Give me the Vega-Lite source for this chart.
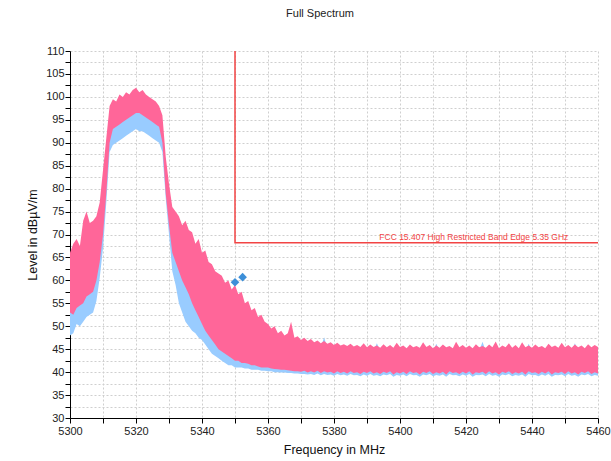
{
  "$schema": "https://vega.github.io/schema/vega-lite/v6.json",
  "width": 528,
  "height": 367,
  "autosize": {"type": "none"},
  "padding": {"left": 70, "top": 51, "right": 13, "bottom": 43},
  "background": "white",
  "title": {"text": "Full Spectrum", "fontSize": 11, "fontWeight": "normal", "font": "Liberation Sans", "color": "#222", "offset": 26, "dx": -14},
  "config": {
    "view": {"stroke": null},
    "axis": {"labelFont": "Liberation Sans", "titleFont": "Liberation Sans", "labelFontSize": 11, "titleFontSize": 12.5, "titleFontWeight": "normal", "labelColor": "#222", "titleColor": "#111", "domainColor": "#000", "tickColor": "#000", "gridColor": "#cfcfcf", "gridDash": [2, 2], "gridWidth": 1, "tickSize": 5, "labelOverlap": false}
  },
  "datasets": {
    "spec": [
      {"f":5300,"pl":53,"ph":66,"bl":48,"bh":63},
      {"f":5301,"pl":52.5,"ph":68,"bl":48.5,"bh":65},
      {"f":5302,"pl":54,"ph":69,"bl":50.5,"bh":66},
      {"f":5303,"pl":54.5,"ph":67.5,"bl":50,"bh":64},
      {"f":5304,"pl":55,"ph":73,"bl":51,"bh":70},
      {"f":5305,"pl":56.5,"ph":75,"bl":52,"bh":71},
      {"f":5306,"pl":57,"ph":72.5,"bl":52.5,"bh":69},
      {"f":5307,"pl":57.5,"ph":73,"bl":53,"bh":70},
      {"f":5308,"pl":60,"ph":74,"bl":55.5,"bh":71},
      {"f":5309,"pl":64,"ph":77,"bl":60.5,"bh":74},
      {"f":5310,"pl":70,"ph":84,"bl":67,"bh":81},
      {"f":5311,"pl":79,"ph":91,"bl":77,"bh":88},
      {"f":5312,"pl":90,"ph":98,"bl":88,"bh":95},
      {"f":5313,"pl":93,"ph":99.5,"bl":89.5,"bh":96},
      {"f":5314,"pl":93.5,"ph":99,"bl":90,"bh":96},
      {"f":5315,"pl":94,"ph":100.5,"bl":90.5,"bh":97},
      {"f":5316,"pl":94.5,"ph":100,"bl":91,"bh":97},
      {"f":5317,"pl":95,"ph":101,"bl":91.5,"bh":98},
      {"f":5318,"pl":95.5,"ph":100.5,"bl":92,"bh":98},
      {"f":5319,"pl":96,"ph":101.5,"bl":92.5,"bh":98.5},
      {"f":5320,"pl":96.5,"ph":102,"bl":93,"bh":99},
      {"f":5321,"pl":96.5,"ph":101,"bl":92.5,"bh":98.5},
      {"f":5322,"pl":96,"ph":101.5,"bl":92.5,"bh":98.5},
      {"f":5323,"pl":95.5,"ph":100.5,"bl":92,"bh":98},
      {"f":5324,"pl":95,"ph":100,"bl":91.5,"bh":97.5},
      {"f":5325,"pl":94.5,"ph":99.5,"bl":91,"bh":97},
      {"f":5326,"pl":94,"ph":99,"bl":90.5,"bh":96.5},
      {"f":5327,"pl":93.5,"ph":98,"bl":90,"bh":96},
      {"f":5328,"pl":90,"ph":96,"bl":88,"bh":94},
      {"f":5329,"pl":79,"ph":87,"bl":78,"bh":85},
      {"f":5330,"pl":72,"ph":81,"bl":70,"bh":79},
      {"f":5331,"pl":66,"ph":76,"bl":62,"bh":74},
      {"f":5332,"pl":64,"ph":75,"bl":59,"bh":72},
      {"f":5333,"pl":62,"ph":74,"bl":55,"bh":71},
      {"f":5334,"pl":60,"ph":72,"bl":53,"bh":70},
      {"f":5335,"pl":58.5,"ph":73,"bl":51,"bh":70},
      {"f":5336,"pl":57,"ph":71,"bl":50,"bh":68},
      {"f":5337,"pl":55,"ph":70.5,"bl":49,"bh":67},
      {"f":5338,"pl":53.5,"ph":68,"bl":48.5,"bh":65},
      {"f":5339,"pl":52,"ph":69,"bl":47.5,"bh":66},
      {"f":5340,"pl":50.5,"ph":66,"bl":47,"bh":63},
      {"f":5341,"pl":49,"ph":66.5,"bl":46,"bh":63},
      {"f":5342,"pl":48,"ph":64,"bl":45,"bh":61},
      {"f":5343,"pl":47,"ph":63.5,"bl":44,"bh":60},
      {"f":5344,"pl":46,"ph":62,"bl":43.5,"bh":59},
      {"f":5345,"pl":45,"ph":61.5,"bl":43,"bh":58},
      {"f":5346,"pl":44.5,"ph":61,"bl":42.5,"bh":57},
      {"f":5347,"pl":44,"ph":59.5,"bl":42,"bh":56},
      {"f":5348,"pl":43.5,"ph":60,"bl":41.5,"bh":56},
      {"f":5349,"pl":43,"ph":58,"bl":41.5,"bh":55},
      {"f":5350,"pl":42.5,"ph":59,"bl":41,"bh":55},
      {"f":5351,"pl":42.5,"ph":57,"bl":41,"bh":54},
      {"f":5352,"pl":42,"ph":57.5,"bl":41,"bh":54},
      {"f":5353,"pl":42,"ph":55,"bl":40.8,"bh":52},
      {"f":5354,"pl":41.8,"ph":55.5,"bl":40.8,"bh":52},
      {"f":5355,"pl":41.5,"ph":53.5,"bl":40.5,"bh":51},
      {"f":5356,"pl":41.5,"ph":54,"bl":40.5,"bh":51},
      {"f":5357,"pl":41.2,"ph":52,"bl":40.5,"bh":50},
      {"f":5358,"pl":41,"ph":52.5,"bl":40.3,"bh":50},
      {"f":5359,"pl":41,"ph":51,"bl":40.3,"bh":49},
      {"f":5360,"pl":41,"ph":50.5,"bl":40.2,"bh":48.5},
      {"f":5361,"pl":40.8,"ph":49.5,"bl":40.2,"bh":48},
      {"f":5362,"pl":40.7,"ph":50,"bl":40,"bh":48},
      {"f":5363,"pl":40.6,"ph":48.5,"bl":40,"bh":47},
      {"f":5364,"pl":40.5,"ph":49,"bl":39.9,"bh":47.5},
      {"f":5365,"pl":40.5,"ph":48,"bl":39.9,"bh":46.5},
      {"f":5366,"pl":40.4,"ph":48.5,"bl":39.8,"bh":47},
      {"f":5367,"pl":40.3,"ph":51,"bl":39.8,"bh":47},
      {"f":5368,"pl":40.2,"ph":47.5,"bl":39.7,"bh":46},
      {"f":5369,"pl":40.2,"ph":47.8,"bl":39.7,"bh":46},
      {"f":5370,"pl":40.1,"ph":47,"bl":39.6,"bh":45.5},
      {"f":5371,"pl":40.3,"ph":47.5,"bl":39.6,"bh":46},
      {"f":5372,"pl":39.9,"ph":46.8,"bl":39.5,"bh":45.5},
      {"f":5373,"pl":40.2,"ph":47.2,"bl":39.6,"bh":46},
      {"f":5374,"pl":39.9,"ph":46.5,"bl":39.4,"bh":45.5},
      {"f":5375,"pl":40.3,"ph":46.9,"bl":39.7,"bh":45.8},
      {"f":5376,"pl":39.8,"ph":46.3,"bl":39.3,"bh":45.3},
      {"f":5377,"pl":40.2,"ph":46.8,"bl":39.6,"bh":47.6},
      {"f":5378,"pl":39.9,"ph":46.2,"bl":39.4,"bh":45.2},
      {"f":5379,"pl":40.1,"ph":46.5,"bl":39.5,"bh":45.5},
      {"f":5380,"pl":39.7,"ph":45.9,"bl":39.2,"bh":45},
      {"f":5381,"pl":40.2,"ph":46.4,"bl":39.6,"bh":45.4},
      {"f":5382,"pl":39.8,"ph":45.8,"bl":39.3,"bh":45},
      {"f":5383,"pl":40.1,"ph":46.1,"bl":39.5,"bh":45.2},
      {"f":5384,"pl":39.7,"ph":45.7,"bl":39.2,"bh":44.8},
      {"f":5385,"pl":40.2,"ph":46.2,"bl":39.6,"bh":45.3},
      {"f":5386,"pl":39.8,"ph":45.6,"bl":39.3,"bh":44.8},
      {"f":5387,"pl":40,"ph":45.9,"bl":39.4,"bh":45},
      {"f":5388,"pl":39.6,"ph":45.5,"bl":39.1,"bh":44.7},
      {"f":5389,"pl":40.1,"ph":46.3,"bl":39.5,"bh":45.2},
      {"f":5390,"pl":39.8,"ph":45.4,"bl":39.2,"bh":44.6},
      {"f":5391,"pl":40.2,"ph":46,"bl":39.6,"bh":45.1},
      {"f":5392,"pl":39.7,"ph":45.5,"bl":39.2,"bh":44.7},
      {"f":5393,"pl":40,"ph":45.8,"bl":39.4,"bh":46.3},
      {"f":5394,"pl":39.6,"ph":45.3,"bl":39.1,"bh":44.6},
      {"f":5395,"pl":40.1,"ph":46.1,"bl":39.5,"bh":45.2},
      {"f":5396,"pl":39.8,"ph":45.4,"bl":39.3,"bh":44.6},
      {"f":5397,"pl":40.2,"ph":45.9,"bl":39.6,"bh":45},
      {"f":5398,"pl":39.5,"ph":45.3,"bl":39,"bh":44.5},
      {"f":5399,"pl":40,"ph":46.4,"bl":39.4,"bh":45.2},
      {"f":5400,"pl":39.7,"ph":45.5,"bl":39.2,"bh":44.7},
      {"f":5401,"pl":40.1,"ph":45.8,"bl":39.5,"bh":45},
      {"f":5402,"pl":39.6,"ph":45.2,"bl":39.1,"bh":44.5},
      {"f":5403,"pl":40.2,"ph":46,"bl":39.6,"bh":45.1},
      {"f":5404,"pl":39.8,"ph":45.4,"bl":39.3,"bh":44.6},
      {"f":5405,"pl":40,"ph":45.7,"bl":39.4,"bh":44.9},
      {"f":5406,"pl":39.5,"ph":45.3,"bl":39,"bh":44.5},
      {"f":5407,"pl":40.1,"ph":46.5,"bl":39.5,"bh":45.2},
      {"f":5408,"pl":39.8,"ph":45.5,"bl":39.3,"bh":44.7},
      {"f":5409,"pl":40.2,"ph":45.9,"bl":39.6,"bh":45},
      {"f":5410,"pl":39.6,"ph":45.2,"bl":39.1,"bh":44.5},
      {"f":5411,"pl":40,"ph":45.8,"bl":39.4,"bh":46.2},
      {"f":5412,"pl":39.7,"ph":45.3,"bl":39.2,"bh":44.6},
      {"f":5413,"pl":40.1,"ph":46,"bl":39.5,"bh":45.1},
      {"f":5414,"pl":39.5,"ph":45.4,"bl":39,"bh":44.6},
      {"f":5415,"pl":40.2,"ph":45.7,"bl":39.6,"bh":44.9},
      {"f":5416,"pl":39.8,"ph":45.2,"bl":39.3,"bh":44.5},
      {"f":5417,"pl":40,"ph":46.6,"bl":39.4,"bh":45.3},
      {"f":5418,"pl":39.6,"ph":45.4,"bl":39.1,"bh":44.6},
      {"f":5419,"pl":40.1,"ph":45.9,"bl":39.5,"bh":45},
      {"f":5420,"pl":39.7,"ph":45.3,"bl":39.2,"bh":44.5},
      {"f":5421,"pl":40.2,"ph":45.8,"bl":39.6,"bh":45},
      {"f":5422,"pl":39.5,"ph":45.2,"bl":39,"bh":44.5},
      {"f":5423,"pl":40,"ph":46.1,"bl":39.4,"bh":45.2},
      {"f":5424,"pl":39.8,"ph":45.4,"bl":39.3,"bh":44.6},
      {"f":5425,"pl":40.1,"ph":45.7,"bl":39.5,"bh":46.6},
      {"f":5426,"pl":39.6,"ph":45.3,"bl":39.1,"bh":44.5},
      {"f":5427,"pl":40.2,"ph":46,"bl":39.6,"bh":45.1},
      {"f":5428,"pl":39.7,"ph":45.4,"bl":39.2,"bh":44.6},
      {"f":5429,"pl":40,"ph":46.7,"bl":39.4,"bh":45.3},
      {"f":5430,"pl":39.5,"ph":45.2,"bl":39,"bh":44.5},
      {"f":5431,"pl":40.1,"ph":45.8,"bl":39.5,"bh":45},
      {"f":5432,"pl":39.8,"ph":45.4,"bl":39.3,"bh":44.6},
      {"f":5433,"pl":40.2,"ph":46.3,"bl":39.6,"bh":45.2},
      {"f":5434,"pl":39.6,"ph":45.3,"bl":39.1,"bh":44.5},
      {"f":5435,"pl":40,"ph":45.9,"bl":39.4,"bh":45},
      {"f":5436,"pl":39.7,"ph":45.2,"bl":39.2,"bh":44.5},
      {"f":5437,"pl":40.1,"ph":46.5,"bl":39.5,"bh":45.3},
      {"f":5438,"pl":39.5,"ph":45.4,"bl":39,"bh":44.6},
      {"f":5439,"pl":40.2,"ph":45.8,"bl":39.6,"bh":46.2},
      {"f":5440,"pl":39.8,"ph":45.3,"bl":39.3,"bh":44.5},
      {"f":5441,"pl":40,"ph":46,"bl":39.4,"bh":45.1},
      {"f":5442,"pl":39.6,"ph":45.4,"bl":39.1,"bh":44.6},
      {"f":5443,"pl":40.1,"ph":45.7,"bl":39.5,"bh":44.9},
      {"f":5444,"pl":39.7,"ph":45.2,"bl":39.2,"bh":44.5},
      {"f":5445,"pl":40.2,"ph":46.2,"bl":39.6,"bh":45.1},
      {"f":5446,"pl":39.5,"ph":45.5,"bl":39,"bh":44.7},
      {"f":5447,"pl":40,"ph":45.8,"bl":39.4,"bh":45},
      {"f":5448,"pl":39.8,"ph":45.3,"bl":39.3,"bh":44.5},
      {"f":5449,"pl":40.1,"ph":46.4,"bl":39.5,"bh":45.2},
      {"f":5450,"pl":39.6,"ph":45.4,"bl":39.1,"bh":44.6},
      {"f":5451,"pl":40.2,"ph":45.9,"bl":39.6,"bh":45},
      {"f":5452,"pl":39.7,"ph":45.3,"bl":39.2,"bh":44.5},
      {"f":5453,"pl":40,"ph":46,"bl":39.4,"bh":46.3},
      {"f":5454,"pl":39.5,"ph":45.4,"bl":39,"bh":44.6},
      {"f":5455,"pl":40.1,"ph":45.8,"bl":39.5,"bh":45},
      {"f":5456,"pl":39.8,"ph":45.2,"bl":39.3,"bh":44.5},
      {"f":5457,"pl":40.2,"ph":46.1,"bl":39.6,"bh":45.1},
      {"f":5458,"pl":39.6,"ph":45.4,"bl":39.1,"bh":44.6},
      {"f":5459,"pl":40,"ph":45.9,"bl":39.4,"bh":45},
      {"f":5460,"pl":39.7,"ph":45.5,"bl":39.2,"bh":44.7}
    ],
    "limit": [
      {"f": 5350, "v": 110, "o": 1},
      {"f": 5350, "v": 68.2, "o": 2},
      {"f": 5460, "v": 68.2, "o": 3}
    ],
    "limitLabel": [
      {"f": 5451, "v": 68.2, "label": "FCC 15.407 High Restricted Band Edge 5.35 GHz"}
    ],
    "peaks": [
      {"f": 5350.0, "v": 59.6},
      {"f": 5352.3, "v": 60.7}
    ]
  },
  "layer": [
    {
      "data": {"name": "spec"},
      "mark": {"type": "area", "color": "#99CCFF", "opacity": 1},
      "encoding": {
        "x": {"field": "f", "type": "quantitative", "scale": {"domain": [5300, 5460], "nice": false, "zero": false}, "title": "Frequency in MHz",
              "axis": {"values": [5300,5310,5320,5330,5340,5350,5360,5370,5380,5390,5400,5410,5420,5430,5440,5450,5460], "format": "d", "labelExpr": "datum.value % 20 == 0 ? datum.label : ''", "grid": true, "titlePadding": 7, "labelPadding": 2, "labelFlush": false, "labelOverlap": false}},
        "y": {"field": "bl", "type": "quantitative", "scale": {"domain": [30, 110], "nice": false, "zero": false}, "title": "Level in dBµV/m",
              "axis": {"values": [30,32.5,35,37.5,40,42.5,45,47.5,50,52.5,55,57.5,60,62.5,65,67.5,70,72.5,75,77.5,80,82.5,85,87.5,90,92.5,95,97.5,100,102.5,105,107.5,110], "labelExpr": "datum.value % 5 == 0 ? datum.label : ''", "grid": true, "titlePadding": 6, "labelPadding": 1, "labelOverlap": false}},
        "y2": {"field": "bh"}
      }
    },
    {
      "data": {"name": "spec"},
      "mark": {"type": "area", "color": "#FF6699", "opacity": 1},
      "encoding": {
        "x": {"field": "f", "type": "quantitative", "title": "Frequency in MHz",
              "axis": {"values": [5300,5310,5320,5330,5340,5350,5360,5370,5380,5390,5400,5410,5420,5430,5440,5450,5460], "format": "d", "labelExpr": "datum.value % 20 == 0 ? datum.label : ''", "grid": true, "titlePadding": 7, "labelPadding": 2, "labelFlush": false, "labelOverlap": false}},
        "y": {"field": "pl", "type": "quantitative", "title": "Level in dBµV/m",
              "axis": {"values": [30,32.5,35,37.5,40,42.5,45,47.5,50,52.5,55,57.5,60,62.5,65,67.5,70,72.5,75,77.5,80,82.5,85,87.5,90,92.5,95,97.5,100,102.5,105,107.5,110], "labelExpr": "datum.value % 5 == 0 ? datum.label : ''", "grid": true, "titlePadding": 6, "labelPadding": 1, "labelOverlap": false}},
        "y2": {"field": "ph"}
      }
    },
    {
      "data": {"name": "limit"},
      "mark": {"type": "line", "color": "#F24444", "strokeWidth": 1.5},
      "encoding": {
        "x": {"field": "f", "type": "quantitative", "title": "Frequency in MHz",
              "axis": {"values": [5300,5310,5320,5330,5340,5350,5360,5370,5380,5390,5400,5410,5420,5430,5440,5450,5460], "format": "d", "labelExpr": "datum.value % 20 == 0 ? datum.label : ''", "grid": true, "titlePadding": 7, "labelPadding": 2, "labelFlush": false, "labelOverlap": false}},
        "y": {"field": "v", "type": "quantitative", "title": "Level in dBµV/m",
              "axis": {"values": [30,32.5,35,37.5,40,42.5,45,47.5,50,52.5,55,57.5,60,62.5,65,67.5,70,72.5,75,77.5,80,82.5,85,87.5,90,92.5,95,97.5,100,102.5,105,107.5,110], "labelExpr": "datum.value % 5 == 0 ? datum.label : ''", "grid": true, "titlePadding": 6, "labelPadding": 1, "labelOverlap": false}},
        "order": {"field": "o"}
      }
    },
    {
      "data": {"name": "limitLabel"},
      "mark": {"type": "text", "color": "#F24444", "font": "Liberation Sans", "fontSize": 8.5, "align": "right", "baseline": "bottom", "dy": -1},
      "encoding": {
        "x": {"field": "f", "type": "quantitative", "title": "Frequency in MHz",
              "axis": {"values": [5300,5310,5320,5330,5340,5350,5360,5370,5380,5390,5400,5410,5420,5430,5440,5450,5460], "format": "d", "labelExpr": "datum.value % 20 == 0 ? datum.label : ''", "grid": true, "titlePadding": 7, "labelPadding": 2, "labelFlush": false, "labelOverlap": false}},
        "y": {"field": "v", "type": "quantitative", "title": "Level in dBµV/m",
              "axis": {"values": [30,32.5,35,37.5,40,42.5,45,47.5,50,52.5,55,57.5,60,62.5,65,67.5,70,72.5,75,77.5,80,82.5,85,87.5,90,92.5,95,97.5,100,102.5,105,107.5,110], "labelExpr": "datum.value % 5 == 0 ? datum.label : ''", "grid": true, "titlePadding": 6, "labelPadding": 1, "labelOverlap": false}},
        "text": {"field": "label"}
      }
    },
    {
      "data": {"name": "peaks"},
      "mark": {"type": "point", "shape": "diamond", "filled": true, "color": "#3D8FD8", "size": 75, "opacity": 1},
      "encoding": {
        "x": {"field": "f", "type": "quantitative", "title": "Frequency in MHz",
              "axis": {"values": [5300,5310,5320,5330,5340,5350,5360,5370,5380,5390,5400,5410,5420,5430,5440,5450,5460], "format": "d", "labelExpr": "datum.value % 20 == 0 ? datum.label : ''", "grid": true, "titlePadding": 7, "labelPadding": 2, "labelFlush": false, "labelOverlap": false}},
        "y": {"field": "v", "type": "quantitative", "title": "Level in dBµV/m",
              "axis": {"values": [30,32.5,35,37.5,40,42.5,45,47.5,50,52.5,55,57.5,60,62.5,65,67.5,70,72.5,75,77.5,80,82.5,85,87.5,90,92.5,95,97.5,100,102.5,105,107.5,110], "labelExpr": "datum.value % 5 == 0 ? datum.label : ''", "grid": true, "titlePadding": 6, "labelPadding": 1, "labelOverlap": false}}
      }
    }
  ]
}
